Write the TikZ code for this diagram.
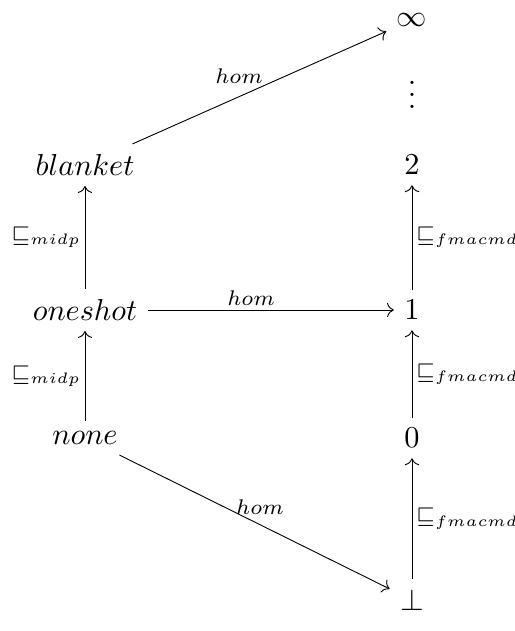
\documentclass[tikz,border=0pt]{standalone}
\usepackage{amsmath,amssymb}
\usepackage{tikz}
\usetikzlibrary{arrows.meta}

\begin{document}
\begin{tikzpicture}[x=0.33pt,y=0.33pt,>={To},line width=0.3pt,
  lab/.style={font=\scriptsize,inner sep=1.2pt}]
\useasboundingbox (0,0) rectangle (514,631);
\node (blanket) at (85,466) {$blanket$};
\node (oneshot) at (85,321) {$oneshot$};
\node (none) at (85,193) {$none$};
\node (inf) at (412,611) {$\infty$};
\node (dots) at (412,545) {$\vdots$};
\node (two) at (412,466) {$2$};
\node (one) at (412,321) {$1$};
\node (zero) at (412,193) {$0$};
\node (bot) at (412,31) {$\bot$};
\draw[->] (none) -- (oneshot) node[midway,left,lab]{$\sqsubseteq_{midp}$};
\draw[->] (oneshot) -- (blanket) node[midway,left,lab]{$\sqsubseteq_{midp}$};
\draw[->] (bot) -- (zero) node[midway,right,lab]{$\sqsubseteq_{fmacmd}$};
\draw[->] (zero) -- (one) node[midway,right,lab]{$\sqsubseteq_{fmacmd}$};
\draw[->] (one) -- (two) node[midway,right,lab]{$\sqsubseteq_{fmacmd}$};
\draw[->] (blanket) -- (inf) node[pos=0.42,above=3pt,lab]{$hom$};
\draw[->] (oneshot) -- (one) node[pos=0.42,above,lab]{$hom$};
\draw[->] (none) -- (bot) node[pos=0.52,above=2pt,lab]{$hom$};
\end{tikzpicture}
\end{document}
